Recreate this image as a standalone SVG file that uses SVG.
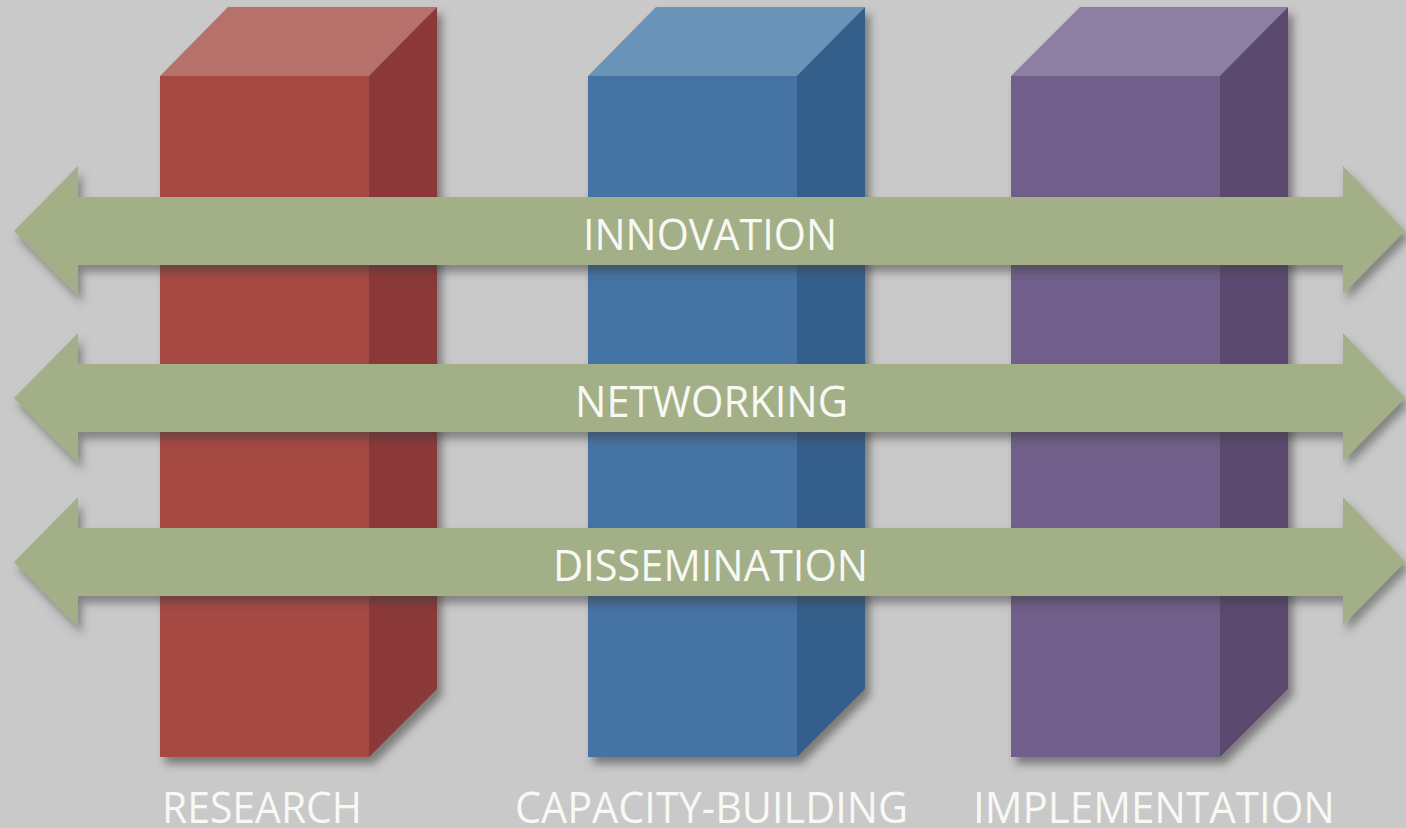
<svg xmlns="http://www.w3.org/2000/svg" width="1406" height="828" viewBox="0 0 1406 828">
<defs>
<filter id="sh" x="-10%" y="-10%" width="130%" height="140%">
<feDropShadow dx="5" dy="7" stdDeviation="4" flood-color="#3a3a3a" flood-opacity="0.55"/>
</filter>
<filter id="sha" x="-5%" y="-30%" width="110%" height="170%">
<feDropShadow dx="4" dy="7" stdDeviation="4" flood-color="#3a3a3a" flood-opacity="0.5"/>
</filter>
<path id="arrow" d="M14,0 L78,-65 L78,-34 L1343,-34 L1343,-65 L1405,0 L1343,63 L1343,34 L78,34 L78,65 Z"/>
</defs>
<style>
.lbl{font-family:"Open Sans","Liberation Sans",sans-serif;fill:#f8f8f4;font-size:44px}
.arr{fill:#a3b087}
</style>
<rect width="1406" height="828" fill="#c9c9c9"/>

<g id="pillar-research" filter="url(#sh)">
<polygon points="160,76 228,7 437,7 369,76" fill="#b76f6b"/>
<polygon points="369,76 437,7 437,689 369,757" fill="#8b3838"/>
<rect x="160" y="76" width="209" height="681" fill="#a54a43"/>
</g>
<g id="pillar-capacity" filter="url(#sh)">
<polygon points="588,76 656,7 865,7 797,76" fill="#6b93b8"/>
<polygon points="797,76 865,7 865,689 797,757" fill="#345e8b"/>
<rect x="588" y="76" width="209" height="681" fill="#4573a3"/>
</g>
<g id="pillar-implementation" filter="url(#sh)">
<polygon points="1011,76 1080,7 1288,7 1220,76" fill="#8d7ea3"/>
<polygon points="1220,76 1288,7 1288,689 1220,757" fill="#5c4a70"/>
<rect x="1011" y="76" width="209" height="681" fill="#6f5e8a"/>
</g>

<g id="connectors">
<g id="arrow-innovation" filter="url(#sha)"><use href="#arrow" class="arr" transform="translate(0,231)"/></g>
<g id="arrow-networking" filter="url(#sha)"><use href="#arrow" class="arr" transform="translate(0,398)"/></g>
<g id="arrow-dissemination" filter="url(#sha)"><use href="#arrow" class="arr" transform="translate(0,562)"/></g>
</g>

<g id="labels-arrows">
<text class="lbl" x="583" y="250" textLength="254" lengthAdjust="spacingAndGlyphs">INNOVATION</text>
<text class="lbl" x="575" y="417" textLength="273" lengthAdjust="spacingAndGlyphs">NETWORKING</text>
<text class="lbl" x="553" y="581" textLength="315" lengthAdjust="spacingAndGlyphs">DISSEMINATION</text>
</g>
<g id="labels-pillars">
<text class="lbl" x="162" y="823" font-size="45" textLength="200" lengthAdjust="spacingAndGlyphs">RESEARCH</text>
<text class="lbl" x="515" y="823" font-size="45" textLength="393" lengthAdjust="spacingAndGlyphs">CAPACITY-BUILDING</text>
<text class="lbl" x="973" y="823" font-size="45" textLength="362" lengthAdjust="spacingAndGlyphs">IMPLEMENTATION</text>
</g>
</svg>
